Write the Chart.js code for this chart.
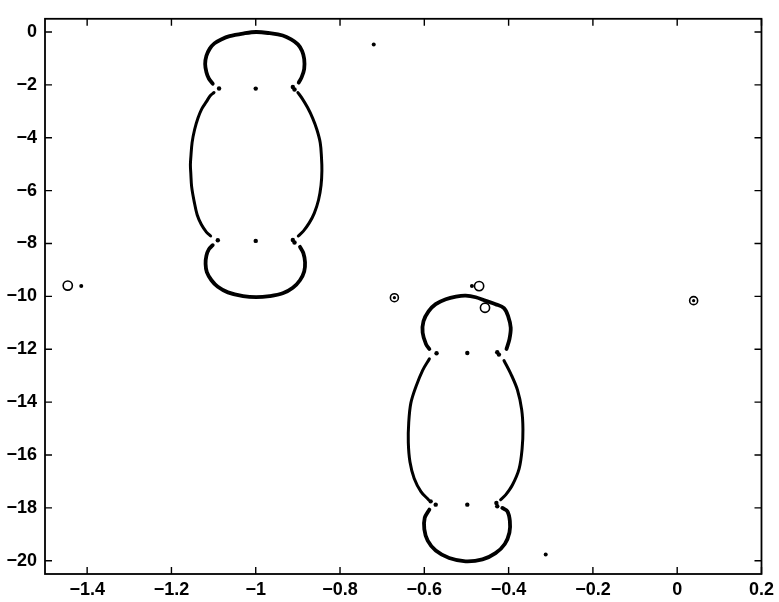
<!DOCTYPE html>
<html lang="en">
<head>
  <meta charset="UTF-8">
  <title>Loops</title>
  <script src="https://cdn.jsdelivr.net/npm/chart.js"></script>
  <style>
    body { margin: 0; background: #fff; }
    .wrap { width: 779px; height: 602px; position: relative; }
  </style>
</head>
<body>
  <div class="wrap"><canvas id="grafico"></canvas></div>
  <script>
    // axis ticks
    const xTicks = [-1.4, -1.2, -1, -0.8, -0.6, -0.4, -0.2, 0, 0.2];
    const yTicks = [0, -2, -4, -6, -8, -10, -12, -14, -16, -18, -20];

    // upper loop (around x = -1), split where the curve breaks at the necks
    const loop1Top = [[-1.102,-1.954],[-1.111,-1.768],[-1.117,-1.520],[-1.120,-1.210],[-1.117,-0.900],[-1.109,-0.628],[-1.098,-0.429],[-1.082,-0.281],[-1.062,-0.157],[-1.030,-0.058],[-0.999,0.000],[-0.967,-0.045],[-0.936,-0.132],[-0.916,-0.281],[-0.900,-0.466],[-0.890,-0.714],[-0.885,-1.024],[-0.885,-1.396],[-0.891,-1.706],[-0.898,-1.916]];
    const loop1Left = [[-1.099,-2.288],[-1.108,-2.412],[-1.117,-2.635],[-1.128,-2.908],[-1.137,-3.255],[-1.145,-3.688],[-1.151,-4.184],[-1.154,-4.742],[-1.155,-5.027],[-1.154,-5.361],[-1.152,-5.857],[-1.146,-6.415],[-1.139,-6.910],[-1.129,-7.282],[-1.117,-7.567],[-1.107,-7.716]];
    const loop1Right = [[-0.900,-2.288],[-0.890,-2.511],[-0.877,-2.858],[-0.865,-3.255],[-0.855,-3.688],[-0.847,-4.184],[-0.844,-4.742],[-0.843,-5.237],[-0.845,-5.795],[-0.851,-6.353],[-0.861,-6.848],[-0.873,-7.220],[-0.887,-7.530],[-0.899,-7.716]];
    const loop1Bottom = [[-1.102,-8.063],[-1.111,-8.212],[-1.117,-8.460],[-1.119,-8.769],[-1.116,-9.079],[-1.105,-9.389],[-1.090,-9.637],[-1.066,-9.847],[-1.030,-9.990],[-0.999,-10.030],[-0.967,-9.990],[-0.936,-9.884],[-0.912,-9.674],[-0.895,-9.389],[-0.885,-9.054],[-0.883,-8.707],[-0.887,-8.360],[-0.895,-8.125]];
    const loop1Dots = [[-1.087,-2.139],[-0.912,-2.077],[-0.908,-2.177],[-1.000,-2.140],[-1.090,-7.877],[-0.912,-7.864],[-0.908,-7.964],[-1.000,-7.900]];

    // lower loop (around x = -0.5)
    const loop2Top = [[-0.588,-11.991],[-0.596,-11.805],[-0.604,-11.371],[-0.602,-10.938],[-0.590,-10.566],[-0.573,-10.293],[-0.549,-10.107],[-0.525,-10.008],[-0.502,-9.971],[-0.478,-10.033],[-0.454,-10.169],[-0.431,-10.293],[-0.411,-10.442],[-0.401,-10.752],[-0.395,-11.185],[-0.398,-11.619],[-0.405,-11.991]];
    const loop2Left = [[-0.588,-12.363],[-0.604,-12.796],[-0.620,-13.416],[-0.632,-14.036],[-0.637,-14.779],[-0.638,-15.522],[-0.634,-16.266],[-0.624,-16.886],[-0.608,-17.381],[-0.590,-17.691]];
    const loop2Right = [[-0.411,-12.424],[-0.395,-12.920],[-0.379,-13.540],[-0.369,-14.283],[-0.366,-15.027],[-0.368,-15.770],[-0.375,-16.514],[-0.391,-17.134],[-0.407,-17.505],[-0.419,-17.691]];
    const loop2Bottom = [[-0.588,-18.063],[-0.599,-18.373],[-0.600,-18.806],[-0.592,-19.240],[-0.573,-19.612],[-0.541,-19.897],[-0.502,-20.021],[-0.462,-19.947],[-0.431,-19.711],[-0.409,-19.364],[-0.398,-18.930],[-0.397,-18.497],[-0.403,-18.125],[-0.415,-18.001]];
    const loop2Dots = [[-0.571,-12.152],[-0.498,-12.140],[-0.427,-12.115],[-0.423,-12.202],[-0.585,-17.753],[-0.573,-17.877],[-0.498,-17.877],[-0.429,-17.815],[-0.427,-17.939]];

    // isolated points
    const strayDots = [[-0.720,-0.47],[-1.414,-9.61],[-0.487,-9.61],[-0.312,-19.76]];
    const openCircles = [[-1.446,-9.59],[-0.470,-9.61],[-0.456,-10.43]];
    const ringedDots = [[-0.671,-10.05],[0.039,-10.16]];

    const pts = a => a.map(([x, y]) => ({ x, y }));
    const fmt = v => (v < 0 ? '\u2212' + String(-v) : String(v));

    function curva(dados, largura) {
      return {
        data: pts(dados), showLine: true, pointRadius: 0,
        borderColor: '#000', borderWidth: largura, tension: 0.35,
        borderCapStyle: 'round', borderJoinStyle: 'round', fill: false
      };
    }
    function pontos(dados, raio, vazio) {
      return {
        data: pts(dados), showLine: false, pointStyle: 'circle', pointRadius: raio,
        pointBackgroundColor: vazio ? 'rgba(0,0,0,0)' : '#000',
        pointBorderColor: '#000', pointBorderWidth: vazio ? 1.6 : 0
      };
    }

    // box with inward ticks on all four sides
    const moldura = {
      id: 'moldura',
      afterDraw(chart) {
        const { ctx, chartArea: a, scales: { x, y } } = chart;
        const tl = 7;
        ctx.save();
        ctx.strokeStyle = '#000';
        ctx.lineWidth = 1.8;
        ctx.strokeRect(a.left, a.top, a.right - a.left, a.bottom - a.top);
        ctx.lineWidth = 1.4;
        ctx.beginPath();
        x.ticks.forEach(t => {
          const px = x.getPixelForValue(t.value);
          ctx.moveTo(px, a.bottom); ctx.lineTo(px, a.bottom - tl);
          ctx.moveTo(px, a.top); ctx.lineTo(px, a.top + tl);
        });
        y.ticks.forEach(t => {
          const py = y.getPixelForValue(t.value);
          ctx.moveTo(a.left, py); ctx.lineTo(a.left + tl, py);
          ctx.moveTo(a.right, py); ctx.lineTo(a.right - tl, py);
        });
        ctx.stroke();
        ctx.restore();
      }
    };

    const fonte = { family: "'Liberation Sans', Arial, sans-serif", size: 18, weight: 'bold' };

    new Chart(document.getElementById('grafico'), {
      type: 'scatter',
      data: {
        datasets: [
          curva(loop1Top, 3.8), curva(loop1Left, 3), curva(loop1Right, 3), curva(loop1Bottom, 3.8),
          curva(loop2Top, 3.8), curva(loop2Left, 3), curva(loop2Right, 3), curva(loop2Bottom, 3.8),
          pontos(loop1Dots, 2.2), pontos(loop2Dots, 2.2), pontos(strayDots, 2),
          pontos(openCircles, 4.6, true), pontos(ringedDots, 4, true), pontos(ringedDots, 1.6)
        ]
      },
      options: {
        responsive: true,
        maintainAspectRatio: false,
        animation: false,
        events: [],
        layout: { padding: { top: 9, right: 16, left: 0, bottom: 0 } },
        plugins: { legend: { display: false }, tooltip: { enabled: false } },
        scales: {
          x: {
            type: 'linear', min: -1.5, max: 0.2,
            afterBuildTicks: s => { s.ticks = xTicks.map(v => ({ value: v })); },
            afterFit: s => { s.height = 28; },
            grid: { display: false, drawTicks: false },
            border: { display: false },
            ticks: { color: '#000', font: fonte, padding: 5, maxRotation: 0, autoSkip: false, callback: v => fmt(v) }
          },
          y: {
            type: 'linear', min: -20.5, max: 0.5,
            afterBuildTicks: s => { s.ticks = yTicks.map(v => ({ value: v })); },
            afterFit: s => { s.width = 45; },
            grid: { display: false, drawTicks: false },
            border: { display: false },
            ticks: { color: '#000', font: fonte, padding: 8, autoSkip: false, callback: v => fmt(v) }
          }
        }
      },
      plugins: [moldura]
    });
  </script>
</body>
</html>
